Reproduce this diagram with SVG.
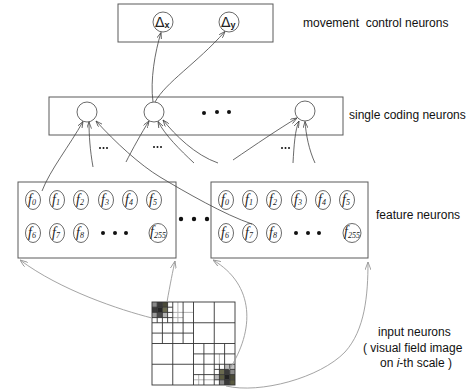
<svg xmlns="http://www.w3.org/2000/svg" width="476" height="392" viewBox="0 0 476 392">
<style>
.box{fill:none;stroke:#5a5a5a;stroke-width:1}
.nc{fill:#fff;stroke:#444;stroke-width:0.8}
.lbl{font-family:"Liberation Sans",Arial,sans-serif;font-size:12px;fill:#111}
.f{font-family:"Liberation Serif","Times New Roman",serif;font-style:italic;font-size:14px;fill:#222}
.s{font-size:8px}
.d{font-family:"DejaVu Sans","Liberation Sans",sans-serif;font-size:14px;fill:#222}
.ds{font-family:"Liberation Sans",Arial,sans-serif;font-size:9px;font-weight:bold}
.dot{fill:#111}
.dk{fill:none;stroke:#444;stroke-width:0.8}
.gy{fill:none;stroke:#9a9a9a;stroke-width:0.9}
.g1{stroke:#333;stroke-width:0.9}
.g2{stroke:#aaa;stroke-width:0.9}
</style>
<defs>
<marker id="ad" viewBox="0 0 8 6" refX="8" refY="3" markerWidth="7" markerHeight="5" markerUnits="userSpaceOnUse" orient="auto"><path d="M0,0 L8,3 L0,6" fill="none" stroke="#444" stroke-width="0.9"/></marker>
<marker id="ag" viewBox="0 0 8 6" refX="8" refY="3" markerWidth="8" markerHeight="6" markerUnits="userSpaceOnUse" orient="auto"><path d="M0,0 L8,3 L0,6" fill="none" stroke="#999" stroke-width="0.9"/></marker>
</defs>
<rect width="476" height="392" fill="#fff"/>

<g id="movement-layer">
<rect class="box" x="118" y="4" width="155" height="38"/>
<g id="dx"><circle class="nc" cx="163" cy="22" r="10"/><text class="d" x="155" y="27">Δ<tspan class="ds" dy="1">x</tspan></text></g>
<g id="dy"><circle class="nc" cx="229" cy="22" r="10"/><text class="d" x="221" y="27">Δ<tspan class="ds" dy="1">y</tspan></text></g>
<text class="lbl" x="303" y="27" xml:space="preserve">movement  control neurons</text>
</g>

<g id="coding-layer">
<rect class="box" x="49" y="97" width="294" height="38"/>
<g id="c1"><circle class="nc" cx="87" cy="112" r="10"/></g>
<g id="c2"><circle class="nc" cx="154" cy="112" r="10"/></g>
<g id="c3"><circle class="nc" cx="305" cy="111" r="10"/></g>
<circle class="dot" cx="204" cy="113" r="2"/><circle class="dot" cx="217" cy="112" r="2"/><circle class="dot" cx="229" cy="112" r="2"/>
<text class="lbl" x="349" y="119">single coding neurons</text>
</g>

<g id="small-dots">
<circle class="dot" cx="100" cy="148" r="1"/><circle class="dot" cx="103.5" cy="148" r="1"/><circle class="dot" cx="107" cy="148" r="1"/>
<circle class="dot" cx="154" cy="147" r="1"/><circle class="dot" cx="157.5" cy="147" r="1"/><circle class="dot" cx="161" cy="147" r="1"/>
<circle class="dot" cx="282" cy="148" r="1"/><circle class="dot" cx="285.5" cy="148" r="1"/><circle class="dot" cx="289" cy="148" r="1"/>
</g>

<g id="feature-map-1">
<rect class="box" x="18" y="182" width="158" height="76"/>
<g id="l-f0"><ellipse class="nc" cx="33" cy="200" rx="7.5" ry="9.5"/><text class="f" x="28" y="204">f<tspan class="s" dy="1">0</tspan></text></g>
<g id="l-f1"><ellipse class="nc" cx="57" cy="200" rx="7.5" ry="9.5"/><text class="f" x="52" y="204">f<tspan class="s" dy="1">1</tspan></text></g>
<g id="l-f2"><ellipse class="nc" cx="81" cy="200" rx="7.5" ry="9.5"/><text class="f" x="76" y="204">f<tspan class="s" dy="1">2</tspan></text></g>
<g id="l-f3"><ellipse class="nc" cx="106" cy="200" rx="7.5" ry="9.5"/><text class="f" x="101" y="204">f<tspan class="s" dy="1">3</tspan></text></g>
<g id="l-f4"><ellipse class="nc" cx="130" cy="200" rx="7.5" ry="9.5"/><text class="f" x="125" y="204">f<tspan class="s" dy="1">4</tspan></text></g>
<g id="l-f5"><ellipse class="nc" cx="154" cy="200" rx="7.5" ry="9.5"/><text class="f" x="149" y="204">f<tspan class="s" dy="1">5</tspan></text></g>
<g id="l-f6"><ellipse class="nc" cx="33" cy="233" rx="7.5" ry="9.5"/><text class="f" x="28" y="237">f<tspan class="s" dy="1">6</tspan></text></g>
<g id="l-f7"><ellipse class="nc" cx="57" cy="233" rx="7.5" ry="9.5"/><text class="f" x="52" y="237">f<tspan class="s" dy="1">7</tspan></text></g>
<g id="l-f8"><ellipse class="nc" cx="81" cy="233" rx="7.5" ry="9.5"/><text class="f" x="76" y="237">f<tspan class="s" dy="1">8</tspan></text></g>
<circle class="dot" cx="103" cy="233" r="2"/><circle class="dot" cx="115" cy="233" r="2"/><circle class="dot" cx="126" cy="233" r="2"/>
<g id="l-f255"><ellipse class="nc" cx="158" cy="233" rx="9" ry="9.5"/><text class="f" x="150" y="236">f<tspan class="s" dy="2">255</tspan></text></g>
</g>

<circle class="dot" cx="181" cy="219" r="2.2"/><circle class="dot" cx="194" cy="219" r="2.2"/><circle class="dot" cx="207" cy="219" r="2.2"/>

<g id="feature-map-2">
<rect class="box" x="211" y="182" width="157" height="76"/>
<g id="r-f0"><ellipse class="nc" cx="226" cy="200" rx="7.5" ry="9.5"/><text class="f" x="221" y="204">f<tspan class="s" dy="1">0</tspan></text></g>
<g id="r-f1"><ellipse class="nc" cx="250" cy="200" rx="7.5" ry="9.5"/><text class="f" x="245" y="204">f<tspan class="s" dy="1">1</tspan></text></g>
<g id="r-f2"><ellipse class="nc" cx="274" cy="200" rx="7.5" ry="9.5"/><text class="f" x="269" y="204">f<tspan class="s" dy="1">2</tspan></text></g>
<g id="r-f3"><ellipse class="nc" cx="299" cy="200" rx="7.5" ry="9.5"/><text class="f" x="294" y="204">f<tspan class="s" dy="1">3</tspan></text></g>
<g id="r-f4"><ellipse class="nc" cx="323" cy="200" rx="7.5" ry="9.5"/><text class="f" x="318" y="204">f<tspan class="s" dy="1">4</tspan></text></g>
<g id="r-f5"><ellipse class="nc" cx="347" cy="200" rx="7.5" ry="9.5"/><text class="f" x="342" y="204">f<tspan class="s" dy="1">5</tspan></text></g>
<g id="r-f6"><ellipse class="nc" cx="226" cy="233" rx="7.5" ry="9.5"/><text class="f" x="221" y="237">f<tspan class="s" dy="1">6</tspan></text></g>
<g id="r-f7"><ellipse class="nc" cx="250" cy="233" rx="7.5" ry="9.5"/><text class="f" x="245" y="237">f<tspan class="s" dy="1">7</tspan></text></g>
<g id="r-f8"><ellipse class="nc" cx="274" cy="233" rx="7.5" ry="9.5"/><text class="f" x="269" y="237">f<tspan class="s" dy="1">8</tspan></text></g>
<circle class="dot" cx="296" cy="233" r="2"/><circle class="dot" cx="308" cy="233" r="2"/><circle class="dot" cx="319" cy="233" r="2"/>
<g id="r-f255"><ellipse class="nc" cx="352" cy="233" rx="9" ry="9.5"/><text class="f" x="344" y="236">f<tspan class="s" dy="2">255</tspan></text></g>
<text class="lbl" x="376" y="219">feature neurons</text>
</g>

<g id="input-image">
<g id="shade">
<rect x="152" y="302" width="5.2" height="5.2" fill="#8a8a8a"/>
<rect x="157.2" y="302" width="5.2" height="5.2" fill="#3a3a3a"/>
<rect x="162.4" y="302" width="5.2" height="5.2" fill="#4a4a38"/>
<rect x="152" y="307.2" width="5.2" height="5.2" fill="#3a3a3a"/>
<rect x="157.2" y="307.2" width="5.2" height="5.2" fill="#262626"/>
<rect x="162.4" y="307.2" width="5.2" height="5.2" fill="#6a6a50"/>
<rect x="152" y="312.4" width="5.2" height="5.2" fill="#9a9a9a"/>
<rect x="157.2" y="312.4" width="5.2" height="5.2" fill="#4a4a4a"/>
<rect x="162.4" y="312.4" width="5.2" height="5.2" fill="#b4b4b4"/>
<rect x="224.6" y="364.3" width="5.2" height="5.2" fill="#bbbbbb"/>
<rect x="229.8" y="364.3" width="5.2" height="5.2" fill="#c4c4c4"/>
<rect x="219.4" y="369.4" width="5.2" height="5.2" fill="#6a6a50"/>
<rect x="224.6" y="369.4" width="5.2" height="5.2" fill="#3a3a3a"/>
<rect x="229.8" y="369.4" width="5.2" height="5.2" fill="#8a8a8a"/>
<rect x="214.3" y="374.6" width="5.2" height="5.2" fill="#b8b8b8"/>
<rect x="219.4" y="374.6" width="5.2" height="5.2" fill="#5a5a40"/>
<rect x="224.6" y="374.6" width="5.2" height="5.2" fill="#222"/>
<rect x="229.8" y="374.6" width="5.2" height="5.2" fill="#4a4a38"/>
<rect x="219.4" y="379.8" width="5.2" height="5.2" fill="#8a8a8a"/>
<rect x="224.6" y="379.8" width="5.2" height="5.2" fill="#3a3a3a"/>
<rect x="229.8" y="379.8" width="5.2" height="5.2" fill="#5a5a40"/>
</g>
<g id="grid-light">
<line class="g2" x1="172.75" y1="312.4" x2="193.5" y2="312.4"/>
<line class="g2" x1="177.9" y1="302" x2="177.9" y2="322.75"/>
<line class="g2" x1="172.75" y1="317.6" x2="183.1" y2="317.6"/>
<line class="g2" x1="193.5" y1="379.8" x2="214.3" y2="379.8"/>
<line class="g2" x1="198.7" y1="374.6" x2="198.7" y2="385"/>
<line class="g2" x1="219.4" y1="353.9" x2="219.4" y2="364.3"/>
</g>
<g id="grid-dark">
<rect x="152" y="302" width="83" height="83" fill="none" stroke="#333" stroke-width="0.9"/>
<line class="g1" x1="172.75" y1="302" x2="172.75" y2="385"/>
<line class="g1" x1="193.5" y1="302" x2="193.5" y2="385"/>
<line class="g1" x1="214.25" y1="302" x2="214.25" y2="385"/>
<line class="g1" x1="152" y1="322.75" x2="235" y2="322.75"/>
<line class="g1" x1="152" y1="343.5" x2="235" y2="343.5"/>
<line class="g1" x1="152" y1="364.25" x2="235" y2="364.25"/>
<line class="g1" x1="162.4" y1="302" x2="162.4" y2="343.5"/>
<line class="g1" x1="183.1" y1="302" x2="183.1" y2="343.5"/>
<line class="g1" x1="152" y1="312.4" x2="172.75" y2="312.4"/>
<line class="g1" x1="152" y1="333.1" x2="193.5" y2="333.1"/>
<line class="g1" x1="157.2" y1="302" x2="157.2" y2="322.75"/>
<line class="g1" x1="167.6" y1="302" x2="167.6" y2="322.75"/>
<line class="g1" x1="152" y1="307.2" x2="172.75" y2="307.2"/>
<line class="g1" x1="152" y1="317.6" x2="172.75" y2="317.6"/>
<line class="g1" x1="203.9" y1="343.5" x2="203.9" y2="385"/>
<line class="g1" x1="224.6" y1="343.5" x2="224.6" y2="385"/>
<line class="g1" x1="193.5" y1="353.9" x2="235" y2="353.9"/>
<line class="g1" x1="193.5" y1="374.6" x2="235" y2="374.6"/>
<line class="g1" x1="219.4" y1="364.25" x2="219.4" y2="385"/>
<line class="g1" x1="229.8" y1="364.25" x2="229.8" y2="385"/>
<line class="g1" x1="214.25" y1="369.4" x2="235" y2="369.4"/>
<line class="g1" x1="214.25" y1="379.8" x2="235" y2="379.8"/>
</g>
<text class="lbl" x="378" y="336">input neurons</text>
<text class="lbl" x="363" y="352">( visual field image</text>
<text class="lbl" x="380" y="367">on <tspan font-style="italic">i</tspan>-th scale )</text>
</g>

<g id="connectors">
<path class="dk" d="M153,102 C150,80 155,52 161,32.5" marker-end="url(#ad)"/>
<path class="dk" d="M155,102 C166,82 196,64 225,31.5" marker-end="url(#ad)"/>
<path class="dk" d="M42,191 C50,170 70,145 83,121.5" marker-end="url(#ad)"/>
<path class="dk" d="M93,167 C90,150 89,135 89,122" marker-end="url(#ad)"/>
<path class="dk" d="M252,224 C225,215 185,192 160,177 C140,165 115,142 96,121" marker-end="url(#ad)"/>
<path class="dk" d="M126,162 C132,150 142,132 149,121" marker-end="url(#ad)"/>
<path class="dk" d="M194,163 C180,150 165,135 158,121.5" marker-end="url(#ad)"/>
<path class="dk" d="M218,163 C195,155 175,135 163,120" marker-end="url(#ad)"/>
<path class="dk" d="M233,160 C255,145 280,128 297,118" marker-end="url(#ad)"/>
<path class="dk" d="M293,163 C294,145 295,130 299,121" marker-end="url(#ad)"/>
<path class="dk" d="M315,163 C309,150 306,135 305,121.5" marker-end="url(#ad)"/>
<path class="gy" d="M152,318 C120,310 60,290 20,260" marker-end="url(#ag)"/>
<path class="gy" d="M167,302 C170,285 173,270 175,261" marker-end="url(#ag)"/>
<path class="gy" d="M229,370 C255,330 255,285 213,260" marker-end="url(#ag)"/>
<path class="gy" d="M226,386 C260,394 320,378 345,352 C365,330 368,295 368,262" marker-end="url(#ag)"/>
</g>
</svg>
